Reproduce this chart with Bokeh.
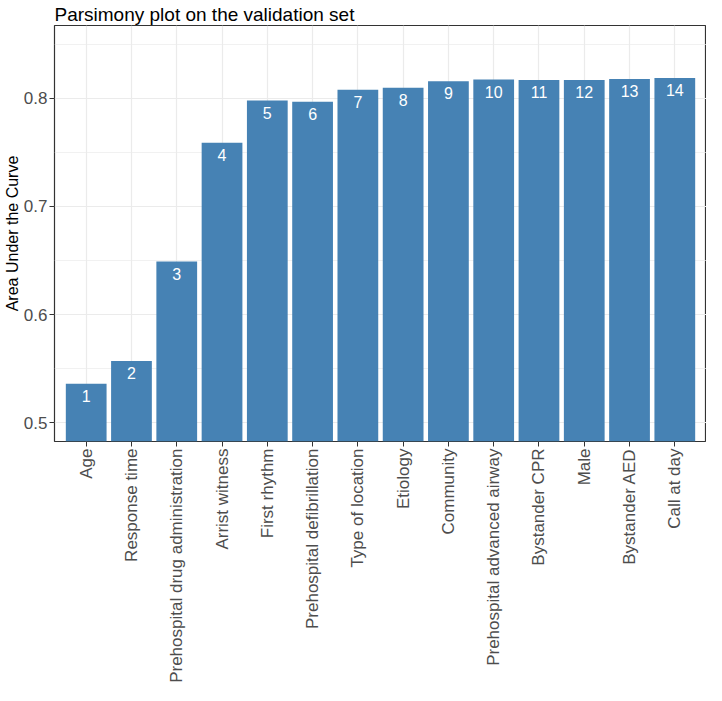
import math
from bokeh.plotting import figure
from bokeh.models import Range1d, FactorRange, FixedTicker
from bokeh.core.properties import value
from bokeh.embed import file_html
from bokeh.resources import INLINE

variables = ["Age", "Response time", "Prehospital drug administration", "Arrist witness",
             "First rhythm", "Prehospital defibrillation", "Type of location", "Etiology",
             "Community", "Prehospital advanced airway", "Bystander CPR", "Male",
             "Bystander AED", "Call at day"]
auc = [0.536, 0.557, 0.649, 0.759, 0.798, 0.797, 0.808, 0.810, 0.816, 0.8175,
       0.817, 0.817, 0.818, 0.819]
bar_labels = [str(i + 1) for i in range(len(variables))]
y_ticks = [0.5, 0.6, 0.7, 0.8]
y_minor = [0.55, 0.65, 0.75, 0.85]

FONT = "Liberation Sans"

p = figure(width=706, height=685, output_backend="svg", toolbar_location=None,
           x_range=FactorRange(*variables, range_padding=0.2, range_padding_units="absolute"),
           y_range=Range1d(0.4825, 0.8675),
           title="Parsimony plot on the validation set",
           min_border_left=0, min_border_right=0, min_border_top=0, min_border_bottom=0)

p.title.text_font = FONT
p.title.text_font_size = "19px"
p.title.text_font_style = "normal"
p.title.text_color = "black"
p.title.standoff = 2
p.title.offset = 0

p.vbar(x=variables, top=auc, bottom=0, width=0.9, fill_color="#4682B4", line_color=None)
p.text(x=variables, y=auc, text=bar_labels, text_color="white", text_align="center",
       text_baseline="middle", y_offset=12, text_font=value(FONT), text_font_size="16px")

p.background_fill_color = "white"
p.outline_line_color = "#333333"
p.outline_line_width = 1.2

p.xgrid.grid_line_color = "#ebebeb"
p.xgrid.grid_line_width = 1.2
p.ygrid.grid_line_color = "#ebebeb"
p.ygrid.grid_line_width = 1.2
p.ygrid.minor_grid_line_color = "#ebebeb"
p.ygrid.minor_grid_line_width = 0.7

p.yaxis.ticker = FixedTicker(ticks=y_ticks, minor_ticks=y_minor)
p.yaxis.axis_label = "Area Under the Curve"
p.yaxis.axis_label_text_font = FONT
p.yaxis.axis_label_text_font_size = "16px"
p.yaxis.axis_label_text_font_style = "normal"
p.yaxis.axis_label_text_color = "black"
p.yaxis.axis_label_standoff = 0

for ax in (p.xaxis, p.yaxis):
    ax.axis_line_color = None
    ax.major_tick_line_color = "#333333"
    ax.major_tick_out = 5
    ax.major_tick_in = 0
    ax.minor_tick_out = 0
    ax.minor_tick_in = 0
    ax.major_label_text_font = FONT
    ax.major_label_text_font_size = "17px"
    ax.major_label_text_color = "#4d4d4d"
    ax.major_label_standoff = 2

p.xaxis.major_label_orientation = math.pi / 2

open("out.html", "w").write(file_html(p, INLINE))
